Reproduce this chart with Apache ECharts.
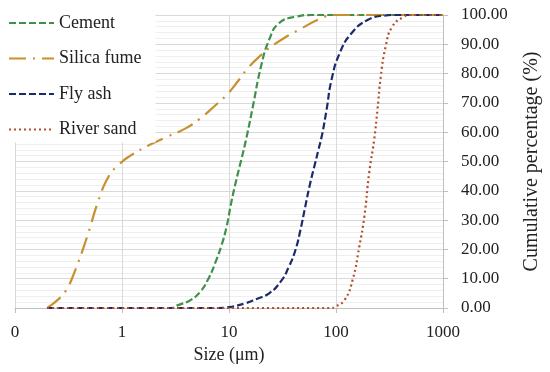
<!DOCTYPE html>
<html>
<head>
<meta charset="utf-8">
<script src="https://cdn.jsdelivr.net/npm/echarts@6/dist/echarts.min.js"></script>
<style>html,body{margin:0;padding:0;background:#fff}#c{width:550px;height:372px}</style>
</head>
<body>
<div id="c"></div>
<script>
var seriesNames = ['Cement', 'Silica fume', 'Fly ash', 'River sand'];
var xTickValues = [0.1, 1, 10, 100, 1000];
var xTickLabels = ['0', '1', '10', '100', '1000'];
var cement = [[0.2,0],[2.9,0],[3.3,0.9],[4.37,2.7],[5.4,5.6],[6.44,10.1],[7.42,15.3],[8.53,21.5],[9.49,27.7],[10.5,36],[11.7,43.7],[13,50.5],[14.5,57.8],[16.7,68.7],[19.9,82.4],[23.7,91.5],[29.3,97.2],[41.8,99.4],[60,100],[1000,100]];
var silicaFume = [[0.2,0],[0.26,3.3],[0.3,6],[0.356,11.8],[0.472,24.3],[0.605,36.9],[0.748,44.8],[0.925,48.8],[1.2,52],[1.8,55.6],[2.66,58.5],[3.93,61.3],[5.39,64.7],[7.52,69.3],[9.5,72.7],[11.7,76.7],[14.5,81.2],[19.2,85.8],[27.4,90.3],[48,95.5],[73,98.9],[95,100],[1000,100]];
var flyAsh = [[0.2,0],[8,0],[10,0.3],[14.5,1.7],[17.9,3],[23.7,5],[30.4,9],[36.3,14.1],[41.8,19.8],[46.5,26.6],[51.6,34.6],[57.4,42.6],[63.8,49.4],[68.4,53.9],[73.5,58.5],[81.6,67.6],[90.7,77.8],[108,86.9],[139,93.7],[197,98.3],[281,99.8],[350,100],[1000,100]];
var riverSand = [[0.2,0],[90,0],[97.5,0.4],[120,2.7],[143,9.6],[165,20.9],[184,31.2],[204,46],[227,57.3],[244,67.6],[262,78.9],[291,89.2],[335,96],[429,99.4],[494,100],[1000,100]];

var FONT = '"Liberation Serif", serif';
var chart = echarts.init(document.getElementById('c'), null, {renderer: 'canvas'});
function mk(name, data, color, dash) {
  return {
    name: name, type: 'line', data: data, symbol: 'none', showSymbol: false,
    smooth: 0.5,
    lineStyle: {color: color, width: 2.2, type: dash},
    itemStyle: {color: color},
    z: 3
  };
}
chart.setOption({
  animation: false,
  backgroundColor: '#fff',
  grid: {left: 15, right: 100, top: 15, bottom: 64},
  legend: {
    orient: 'vertical', left: 0, top: 0,
    padding: [14, 14, 4, 8],
    backgroundColor: '#fff',
    itemWidth: 45, itemHeight: 17, itemGap: 17.5,
    itemStyle: {opacity: 0, color: 'rgba(0,0,0,0)', borderWidth: 0},
    textStyle: {fontFamily: FONT, fontSize: 18, color: '#222', lineHeight: 17},
    data: seriesNames,
    z: 10
  },
  xAxis: {
    type: 'log', logBase: 10, min: 0.1, max: 1000,
    name: 'Size (μm)', nameLocation: 'middle', nameGap: 35,
    nameTextStyle: {fontFamily: FONT, fontSize: 18, color: '#222'},
    axisLine: {show: true, lineStyle: {color: '#bfbfbf', width: 1}},
    axisTick: {show: true, length: 5, lineStyle: {color: '#bfbfbf'}},
    axisLabel: {
      fontFamily: FONT, fontSize: 17, color: '#222', margin: 16,
      formatter: function (v) {
        var best = 0, bd = Infinity;
        for (var i = 0; i < xTickValues.length; i++) {
          var d = Math.abs(Math.log10(v) - Math.log10(xTickValues[i]));
          if (d < bd) { bd = d; best = i; }
        }
        return xTickLabels[best];
      }
    },
    splitLine: {show: true, lineStyle: {color: '#d9d9d9', width: 1}},
    minorTick: {show: false},
    minorSplitLine: {show: false}
  },
  yAxis: {
    type: 'value', position: 'right', min: 0, max: 100, interval: 10,
    name: 'Cumulative percentage (%)', nameLocation: 'middle', nameGap: 79, nameRotate: 90,
    nameTextStyle: {fontFamily: FONT, fontSize: 20, color: '#222'},
    axisLine: {show: true, lineStyle: {color: '#bfbfbf', width: 1}},
    axisTick: {show: true, length: 5, inside: false, lineStyle: {color: '#bfbfbf'}},
    axisLabel: {
      fontFamily: FONT, fontSize: 17, color: '#222', margin: 18,
      formatter: function (v) { return v.toFixed(2); }
    },
    splitLine: {show: true, lineStyle: {color: '#d9d9d9', width: 1}},
    minorTick: {show: false, splitNumber: 5},
    minorSplitLine: {show: true, lineStyle: {color: '#efefef', width: 1}}
  },
  series: [
    mk(seriesNames[0], cement, '#3f9048', [7, 3]),
    mk(seriesNames[1], silicaFume, '#c8912f', [17, 7, 2, 7]),
    mk(seriesNames[2], flyAsh, '#1b2a6b', [7, 3]),
    mk(seriesNames[3], riverSand, '#b24e2a', [2, 3])
  ]
});
</script>
</body>
</html>
